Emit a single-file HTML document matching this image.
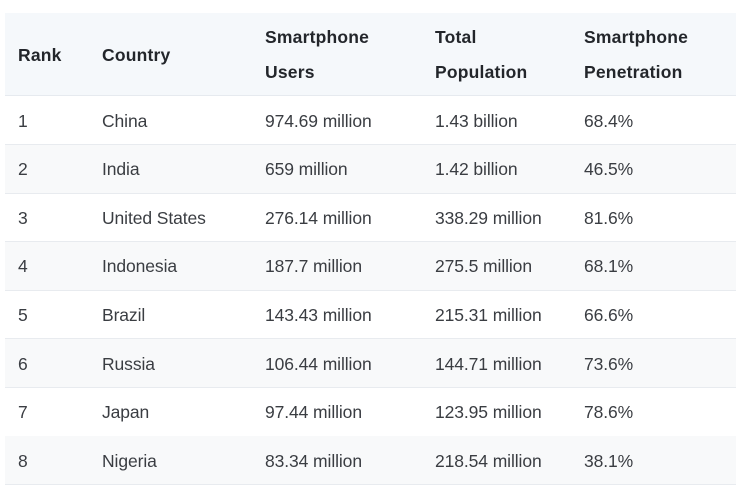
<!DOCTYPE html>
<html><head><style>
body{margin:0;width:741px;height:486px;background:#fff;font-family:"Liberation Sans",sans-serif;overflow:hidden;position:relative}
.hd{position:absolute;left:5px;top:13px;width:731px;height:82px;background:#f5f8fb;border-bottom:1px solid #e6eaef}
.t{position:absolute;font-size:17.5px;line-height:20px;color:#3a3d42;white-space:nowrap;letter-spacing:-0.1px}
.b{font-weight:bold;font-size:17.5px;color:#23262b;letter-spacing:0.2px}
.row{position:absolute;left:5px;width:731px;height:48px;border-bottom:1px solid #e8ebef}
.g{background:#f8f9fa}
</style></head><body>
<div class="hd"></div>
<div class="row" style="top:96px"></div>
<div class="row g" style="top:145px"></div>
<div class="row" style="top:193px"></div>
<div class="row g" style="top:242px"></div>
<div class="row" style="top:290px"></div>
<div class="row g" style="top:339px"></div>
<div class="row" style="top:388px"></div>
<div class="row g" style="top:436px"></div>
<div class="t b" style="left:18px;top:45px">Rank</div>
<div class="t b" style="left:102px;top:45px">Country</div>
<div class="t b" style="left:265px;top:27px">Smartphone</div>
<div class="t b" style="left:265px;top:62px">Users</div>
<div class="t b" style="left:435px;top:27px">Total</div>
<div class="t b" style="left:435px;top:62px">Population</div>
<div class="t b" style="left:584px;top:27px">Smartphone</div>
<div class="t b" style="left:584px;top:62px">Penetration</div>

<div class="t" style="left:18px;top:111px">1</div><div class="t" style="left:102px;top:111px">China</div><div class="t" style="left:265px;top:111px">974.69 million</div><div class="t" style="left:435px;top:111px">1.43 billion</div><div class="t" style="left:584px;top:111px">68.4%</div>
<div class="t" style="left:18px;top:159px">2</div><div class="t" style="left:102px;top:159px">India</div><div class="t" style="left:265px;top:159px">659 million</div><div class="t" style="left:435px;top:159px">1.42 billion</div><div class="t" style="left:584px;top:159px">46.5%</div>
<div class="t" style="left:18px;top:208px">3</div><div class="t" style="left:102px;top:208px">United States</div><div class="t" style="left:265px;top:208px">276.14 million</div><div class="t" style="left:435px;top:208px">338.29 million</div><div class="t" style="left:584px;top:208px">81.6%</div>
<div class="t" style="left:18px;top:256px">4</div><div class="t" style="left:102px;top:256px">Indonesia</div><div class="t" style="left:265px;top:256px">187.7 million</div><div class="t" style="left:435px;top:256px">275.5 million</div><div class="t" style="left:584px;top:256px">68.1%</div>
<div class="t" style="left:18px;top:305px">5</div><div class="t" style="left:102px;top:305px">Brazil</div><div class="t" style="left:265px;top:305px">143.43 million</div><div class="t" style="left:435px;top:305px">215.31 million</div><div class="t" style="left:584px;top:305px">66.6%</div>
<div class="t" style="left:18px;top:354px">6</div><div class="t" style="left:102px;top:354px">Russia</div><div class="t" style="left:265px;top:354px">106.44 million</div><div class="t" style="left:435px;top:354px">144.71 million</div><div class="t" style="left:584px;top:354px">73.6%</div>
<div class="t" style="left:18px;top:402px">7</div><div class="t" style="left:102px;top:402px">Japan</div><div class="t" style="left:265px;top:402px">97.44 million</div><div class="t" style="left:435px;top:402px">123.95 million</div><div class="t" style="left:584px;top:402px">78.6%</div>
<div class="t" style="left:18px;top:451px">8</div><div class="t" style="left:102px;top:451px">Nigeria</div><div class="t" style="left:265px;top:451px">83.34 million</div><div class="t" style="left:435px;top:451px">218.54 million</div><div class="t" style="left:584px;top:451px">38.1%</div>
</body></html>
